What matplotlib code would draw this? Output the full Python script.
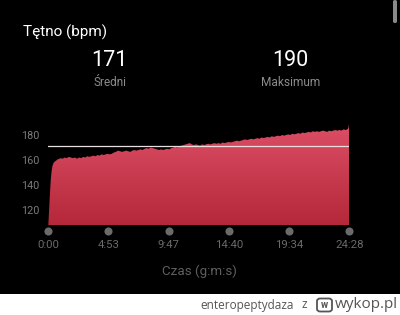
import matplotlib
matplotlib.use("Agg")
import matplotlib.pyplot as plt
from matplotlib.patches import FancyBboxPatch, Rectangle
import numpy as np

plt.rcParams['font.family'] = ['Roboto', 'DejaVu Sans']

# heart rate samples: time in seconds, bpm
time_s = [0, 4, 8, 12, 16, 20, 25, 30, 38, 46, 54, 62, 70, 80, 90, 100, 110, 120,
          130, 140, 150, 160, 170, 180, 190, 200, 210, 220, 230, 240, 250, 260,
          270, 280, 290, 300, 310, 320, 330, 340, 350, 360, 370, 380, 390, 400,
          410, 420, 430, 440, 450, 460, 470, 480, 490, 500, 510, 520, 530, 540,
          550, 560, 570, 580, 590, 600, 610, 620, 630, 640, 650, 660, 670, 680,
          690, 700, 710, 720, 730, 740, 750, 760, 770, 780, 790, 800, 810, 820,
          830, 840, 850, 860, 870, 880, 890, 900, 910, 920, 930, 940, 950, 960,
          970, 980, 990, 1000, 1010, 1020, 1030, 1040, 1050, 1060, 1070, 1080,
          1090, 1100, 1110, 1120, 1130, 1140, 1150, 1160, 1170, 1180, 1190, 1200,
          1210, 1220, 1230, 1240, 1250, 1260, 1270, 1280, 1290, 1300, 1310, 1320,
          1330, 1340, 1350, 1360, 1370, 1380, 1390, 1400, 1410, 1420, 1430, 1440,
          1450, 1458, 1463, 1466, 1468]
heart_rate = [108, 120, 133, 144, 151, 155, 157.5, 158.5, 159.5, 160.5, 161, 161.5, 161, 162, 161.5, 162.5, 162, 161.5,
              162, 161, 162, 161.5, 162.5, 162, 163, 162.5, 163, 163.5, 163, 164, 163.5, 164.5,
              164, 164.5, 165, 164.5, 165, 166, 166.5, 167.5, 167, 166.5, 167, 167.5, 167, 166.5,
              167.5, 168, 167.5, 168, 168.5, 168, 169, 169.5, 169, 170, 169.5, 169, 168.5, 168,
              168.5, 168, 168.5, 169, 168.5, 169.5, 170, 170.5, 170, 171, 171.5, 172, 172.5, 173,
              173.5, 172.5, 172, 172.5, 172, 171.5, 172.5, 172, 172.5, 173, 172.5, 173, 173.5, 173,
              173.5, 173, 174, 173.5, 174, 174.5, 174, 174.5, 175, 175.5, 175, 175.5, 176, 176.5,
              176, 176.5, 177, 176.5, 177, 177.5, 177, 178, 177.5, 178, 178.5, 178,
              179, 178.5, 179, 179.5, 179, 180, 179.5, 180, 180.5, 180, 181, 180.5,
              181, 181.5, 181, 182, 181.5, 182, 182.5, 182, 183, 182.5, 183, 182.5,
              183, 183.5, 183, 182.5, 183.5, 183, 183.5, 184, 183.5, 184, 183.5, 184.5,
              184, 184.5, 185.5, 188, 190]
average_hr = 171
max_hr = 190
tick_seconds = [0, 293, 587, 880, 1174, 1468]
tick_labels = ["0:00", "4:53", "9:47", "14:40", "19:34", "24:28"]
y_ticks = [120, 140, 160, 180]

W, H = 400, 315


def fx(px):
    return px / W


def fy(py):
    return 1 - py / H


fig = plt.figure(figsize=(W / 100, H / 100), dpi=100, facecolor='black')

# white footer strip
fig.patches.append(Rectangle((0, 0), 1, 21 / H, transform=fig.transFigure,
                             facecolor='white', edgecolor='none', zorder=0))

ax = fig.add_axes([fx(48.3), fy(225), (349.3 - 48.3) / W, 105 / H])
ax.set_facecolor('black')
ax.set_xlim(0, 1468)
ax.set_ylim(108, 192)

# gradient filled area
poly = ax.fill_between(time_s, heart_rate, 108, color='none', lw=0)
grad = np.linspace(0, 1, 256).reshape(-1, 1)
cmap = matplotlib.colors.LinearSegmentedColormap.from_list('hr', ['#b5283a', '#dc4f66'])
img = ax.imshow(grad, cmap=cmap, origin='lower', aspect='auto',
                extent=[0, 1468, 108, 190], zorder=1)
img.set_clip_path(poly.get_paths()[0], transform=ax.transData)

# average line
ax.axhline(average_hr, color='#e8e0e0', lw=0.9, zorder=3)

for s in ax.spines.values():
    s.set_visible(False)
ax.set_yticks(y_ticks)
ax.set_yticklabels([str(v) for v in y_ticks])
ax.tick_params(axis='y', length=0, pad=6.5, labelcolor='#7a7a7a', labelsize=7.8)
ax.set_xticks(tick_seconds)
ax.set_xticklabels(tick_labels)
ax.tick_params(axis='x', length=0, pad=11, labelcolor='#6a6a6a', labelsize=8.2)

# dot markers under the axis
ax.scatter(tick_seconds, [103.2] * len(tick_seconds), s=34, color='#6b6b6b',
           clip_on=False, zorder=4, linewidths=0)

fig.text(fx(199), fy(271), "Czas (g:m:s)", color='#5f5f5f', fontsize=9.6,
         ha='center', va='center')

# header
fig.text(fx(23), fy(32), "Tętno (bpm)", color='white', fontsize=11, ha='left', va='center')
fig.text(fx(109), fy(61), str(average_hr), color='white', fontsize=15.5, ha='center', va='center')
fig.text(fx(109.5), fy(82), "Średni", color='#8c8c8c', fontsize=8.5, ha='center', va='center')
fig.text(fx(290), fy(61), str(max_hr), color='white', fontsize=15.5, ha='center', va='center')
fig.text(fx(291), fy(82), "Maksimum", color='#8c8c8c', fontsize=8.6, ha='center', va='center')

# scrollbar
fig.patches.append(FancyBboxPatch((fx(393), fy(23)), 4 / W, 23 / H,
                                  boxstyle='round,pad=0,rounding_size=0.005',
                                  transform=fig.transFigure, facecolor='#8a8a8a',
                                  edgecolor='none'))

# footer
fig.text(fx(294), fy(305), "enteropeptydaza", color='#555555', fontsize=8.5,
         ha='right', va='center', family=['Open Sans', 'DejaVu Sans'])
fig.text(fx(304), fy(305), "z", color='#555555', fontsize=8.5,
         ha='center', va='center', family=['Open Sans', 'DejaVu Sans'])
fig.patches.append(FancyBboxPatch((fx(317), fy(311.5)), 15 / W, 13 / H,
                                  boxstyle='round,pad=0,rounding_size=0.008',
                                  transform=fig.transFigure, facecolor='white',
                                  edgecolor='#555555', lw=1.3))
fig.text(fx(324.5), fy(305), "w", color='#555555', fontsize=7, fontweight='bold',
         ha='center', va='center')
fig.text(fx(335), fy(304), "wykop.pl", color='#555555', fontsize=11,
         ha='left', va='center', family=['Open Sans', 'DejaVu Sans'])

fig.savefig("out.png", dpi=100, facecolor='black')
